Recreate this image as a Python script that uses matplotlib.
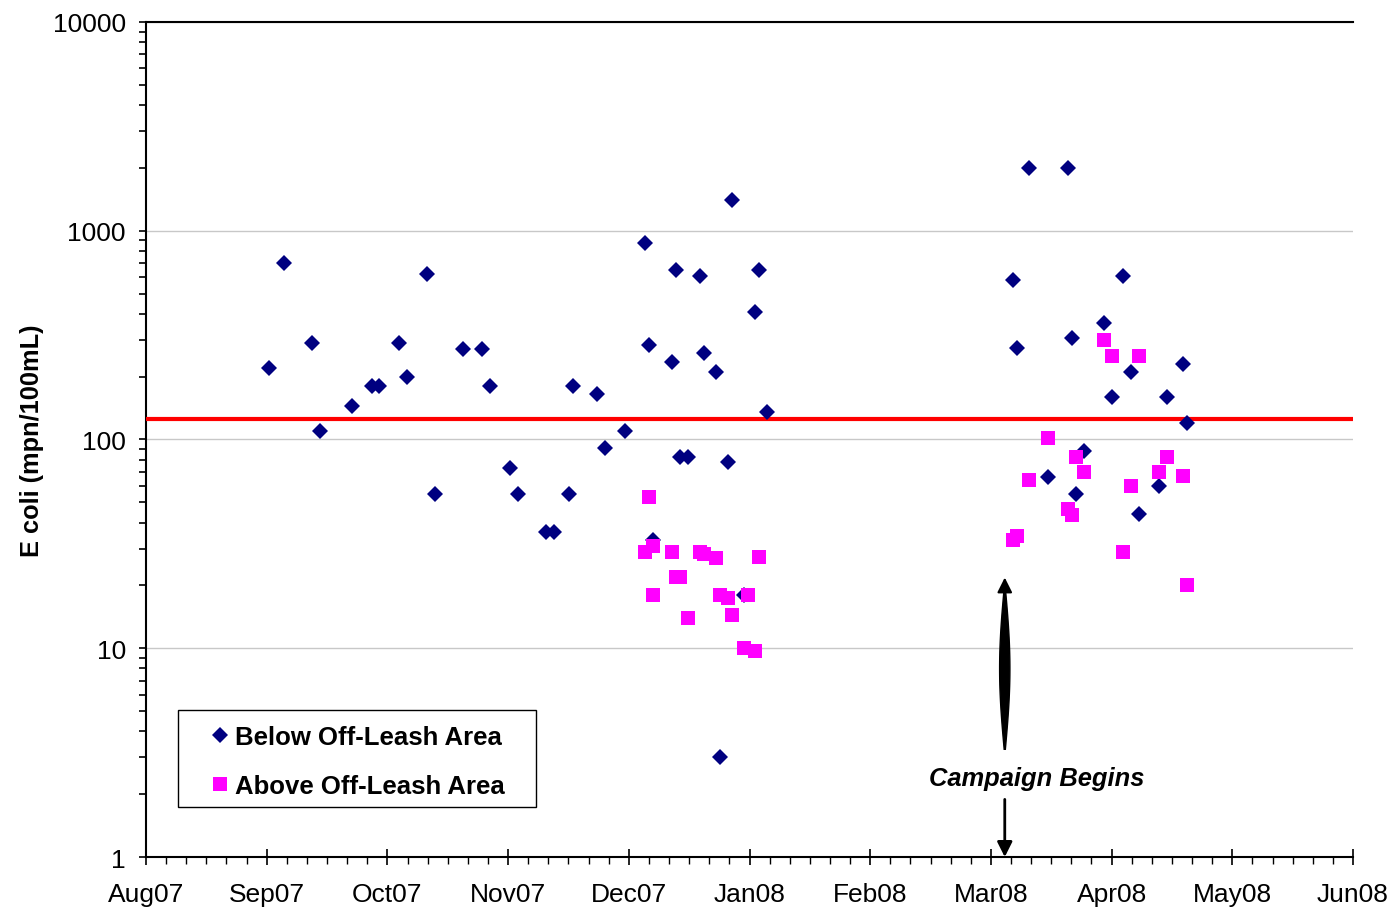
"""
E. coli samples below and above the off-leash area, Aug 2007 - Jun 2008.
"""

import numpy as np
import matplotlib
matplotlib.use("Agg")
import matplotlib.pyplot as plt
import matplotlib.dates as mdates
import matplotlib.transforms as mtransforms
from matplotlib.patches import Rectangle
from matplotlib.ticker import LogLocator, NullFormatter

plt.rcParams["font.family"] = ["Liberation Sans", "DejaVu Sans"]

below_dates = [
    "2007-09-01", "2007-09-05", "2007-09-12", "2007-09-14", "2007-09-22",
    "2007-09-27", "2007-09-29", "2007-10-04", "2007-10-06", "2007-10-11",
    "2007-10-13", "2007-10-20", "2007-10-25", "2007-10-27", "2007-11-01",
    "2007-11-03", "2007-11-10", "2007-11-12", "2007-11-16", "2007-11-17",
    "2007-11-23", "2007-11-25", "2007-11-30", "2007-12-05", "2007-12-06",
    "2007-12-07", "2007-12-13", "2007-12-12", "2007-12-14", "2007-12-16",
    "2007-12-19", "2007-12-20", "2007-12-23", "2007-12-26", "2007-12-27",
    "2007-12-24", "2007-12-30", "2008-01-02", "2008-01-03", "2008-01-05",
    "2008-03-11", "2008-03-21", "2008-03-07", "2008-04-04", "2008-03-08",
    "2008-03-22", "2008-03-30", "2008-04-06", "2008-04-01", "2008-04-15",
    "2008-04-19", "2008-04-20", "2008-03-25", "2008-03-16", "2008-03-23",
    "2008-04-13", "2008-04-08",
]
below_values = [
    220, 700, 290, 110, 145,
    180, 180, 290, 200, 620,
    55, 270, 270, 180, 73,
    55, 36, 36, 55, 180,
    165, 91, 110, 870, 285,
    33, 650, 235, 82, 82,
    610, 260, 210, 78, 1400,
    3, 18, 410, 650, 135,
    2000, 2000, 580, 610, 275,
    305, 360, 210, 160, 160,
    230, 120, 88, 66, 55,
    60, 44,
]

above_dates = [
    "2007-12-06", "2007-12-05", "2007-12-07", "2007-12-12", "2007-12-19",
    "2007-12-20", "2007-12-23", "2008-01-03", "2007-12-13", "2007-12-14",
    "2007-12-07", "2007-12-24", "2007-12-26", "2007-12-31", "2007-12-16",
    "2007-12-27", "2007-12-30", "2008-01-02",
    "2008-03-30", "2008-04-01", "2008-04-08", "2008-03-16", "2008-03-23",
    "2008-03-25", "2008-04-15", "2008-04-13", "2008-04-19", "2008-03-11",
    "2008-04-06", "2008-03-21", "2008-03-22", "2008-03-07", "2008-03-08",
    "2008-04-04", "2008-04-20",
]
above_values = [
    53, 29, 31, 29, 29,
    28.4, 27, 27.5, 22, 22,
    18, 18, 17.5, 18, 14,
    14.4, 10, 9.7,
    300, 250, 250, 102, 82,
    70, 82, 70, 67, 64,
    60, 46.5, 43.6, 33, 34.5,
    29, 20,
]

standard = 126
campaign_date = "2008-03-05"

month_labels = [
    "Aug07", "Sep07", "Oct07", "Nov07", "Dec07", "Jan08",
    "Feb08", "Mar08", "Apr08", "May08", "Jun08",
]
y_ticks = [1, 10, 100, 1000, 10000]

axis_start = np.datetime64("2007-08-01")
axis_end = np.datetime64("2008-06-01")


def main() -> None:
    fig = plt.figure(figsize=(13.93, 9.12), dpi=100)
    ax = fig.add_axes([0.1048, 0.0592, 0.8665, 0.9156])

    x_below = np.array(below_dates, dtype="datetime64[D]")
    x_above = np.array(above_dates, dtype="datetime64[D]")

    ax.plot(x_below, below_values, linestyle="none", marker="D",
            markersize=8.4, color="#000080", markeredgewidth=0,
            label="Below Off-Leash Area", zorder=4)
    ax.plot(x_above, above_values, linestyle="none", marker="s",
            markersize=9.4, color="#FF00FF", markeredgewidth=0,
            label="Above Off-Leash Area", zorder=5)

    ax.axhline(standard, color="#FF0000", linewidth=3.0, zorder=3)

    # axes
    ax.set_yscale("log")
    ax.set_ylim(1, 10000)
    ax.set_yticks(y_ticks)
    ax.set_yticklabels([str(v) for v in y_ticks])
    ax.yaxis.set_minor_locator(LogLocator(base=10, subs=np.arange(2, 10)))
    ax.yaxis.set_minor_formatter(NullFormatter())

    start = mdates.date2num(axis_start)
    end = mdates.date2num(axis_end)
    ax.set_xlim(start, end)
    ax.set_xticks(np.linspace(start, end, len(month_labels)))
    ax.set_xticklabels(month_labels)
    ax.set_xticks(np.linspace(start, end, 6 * (len(month_labels) - 1) + 1),
                  minor=True)

    ax.yaxis.grid(True, which="major", color="#c8c8c8", linewidth=1.0)
    ax.set_axisbelow(True)

    ax.spines["right"].set_visible(False)
    for side in ["left", "bottom", "top"]:
        ax.spines[side].set_linewidth(1.5)
        ax.spines[side].set_color("black")

    ax.tick_params(axis="y", which="both", direction="out", length=5,
                   width=1.2, labelsize=19, pad=9.5)
    ax.tick_params(axis="x", which="major", direction="inout", length=12,
                   width=1.2, labelsize=19, pad=12)
    ax.tick_params(axis="x", which="minor", direction="out", length=5,
                   width=1.0)

    ax.set_ylabel("E coli (mpn/100mL)", fontsize=18.3, fontweight="bold",
                  labelpad=6)

    # legend box drawn separately so its padding matches the original
    box = Rectangle((0.0265, 0.0599), 0.2966, 0.1162, transform=ax.transAxes,
                    facecolor="white", edgecolor="black", linewidth=1.0,
                    zorder=6)
    ax.add_patch(box)
    legend = ax.legend(loc="center",
                       bbox_to_anchor=(0.0265 + 0.2966 / 2,
                                       0.0599 + 0.1162 / 2 - 0.0036),
                       borderaxespad=0, borderpad=0,
                       prop={"weight": "bold", "size": 18.5},
                       frameon=False, handlelength=0.78,
                       handletextpad=0.2, labelspacing=0.98)
    legend.set_zorder(7)

    # campaign annotation: x in data, y in axes fraction
    trans = mtransforms.blended_transform_factory(ax.transData, ax.transAxes)
    cx = mdates.date2num(np.datetime64(campaign_date))

    # lens-shaped upward arrow body
    t = np.linspace(0, 1, 60)
    y_body = 0.129 + t * (0.322 - 0.129)
    half = 1.15 * np.sin(np.pi * t) + 0.15
    xs = np.concatenate([cx - half, (cx + half)[::-1]])
    ys = np.concatenate([y_body, y_body[::-1]])
    ax.fill(xs, ys, color="black", transform=trans, zorder=6)
    ax.annotate("", xy=(cx, 0.338), xytext=(cx, 0.31),
                xycoords=trans, textcoords=trans,
                arrowprops=dict(arrowstyle="-|>,head_length=0.9,head_width=0.45",
                                color="black", lw=1.5))

    ax.annotate("", xy=(cx, 0.0), xytext=(cx, 0.069),
                xycoords=trans, textcoords=trans,
                arrowprops=dict(arrowstyle="-|>,head_length=0.9,head_width=0.45",
                                color="black", lw=2.0, shrinkA=0, shrinkB=0))

    ax.text(mdates.date2num(np.datetime64("2008-03-13")), 0.095,
            "Campaign Begins", transform=trans, ha="center", va="center",
            fontsize=18.4, fontweight="bold", fontstyle="italic")

    fig.savefig("out.png", dpi=100)


if __name__ == "__main__":
    main()
